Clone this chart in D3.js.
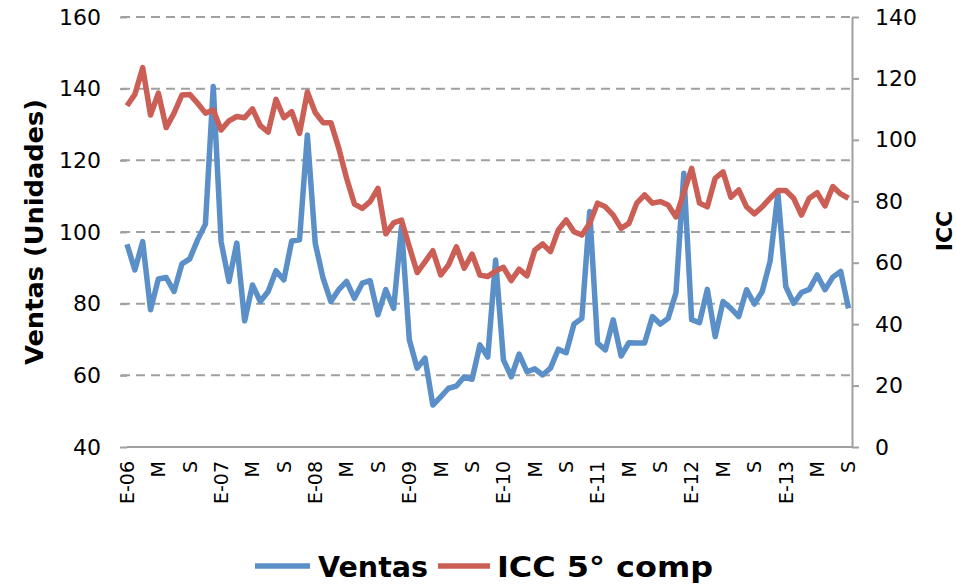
<!DOCTYPE html>
<html>
<head>
<meta charset="utf-8">
<script src="https://cdn.jsdelivr.net/npm/d3@7"></script>
<style>
  html, body { margin: 0; padding: 0; background: #fff; }
  svg { display: block; font-family: "DejaVu Sans", sans-serif; }
</style>
</head>
<body>
<svg id="chart" width="956" height="586"></svg>
<script>
// Monthly data, E-06 (Jan 2006) .. S-13 (Sep 2013)
const ventas = [
  96.6, 89.4, 97.3, 78.3, 86.9, 87.3, 83.4, 91.1, 92.5, 97.8, 102.2, 140.6,
  97.3, 86.2, 96.9, 75.2, 85.2, 80.6, 83.4, 89.2, 86.6, 97.5, 97.8, 127.1,
  96.9, 87.1, 80.6, 83.9, 86.2, 81.5, 85.7, 86.4, 76.9, 83.9, 78.7, 101.5,
  69.9, 62.0, 64.8, 51.7, 54.0, 56.4, 57.0, 59.6, 58.9, 68.5, 65.1, 92.2,
  64.3, 59.6, 65.9, 61.0, 61.8, 60.1, 62.0, 67.3, 66.3, 74.3, 75.9, 105.7,
  69.0, 67.1, 75.5, 65.4, 69.1, 69.0, 69.0, 76.4, 74.3, 75.9, 83.0, 116.4,
  75.5, 74.7, 84.0, 70.8, 80.6, 78.7, 76.4, 83.9, 79.9, 83.4, 91.8, 110.8,
  84.8, 80.1, 83.1, 84.0, 88.0, 83.9, 87.4, 89.0, 78.7
];
const icc = [
  111.1, 114.8, 123.5, 108.1, 115.2, 104.0, 108.7, 114.6, 114.8, 111.9, 108.7, 109.7,
  103.2, 106.2, 107.6, 107.2, 110.1, 104.6, 102.5, 113.2, 107.2, 109.2, 102.1, 115.6,
  108.9, 105.6, 105.6, 97.3, 87.5, 79.1, 77.7, 79.9, 84.2, 69.4, 73.0, 73.9,
  65.2, 56.8, 60.3, 63.9, 56.0, 59.3, 65.2, 58.2, 62.8, 56.0, 55.5, 57.3,
  58.5, 54.2, 57.9, 55.7, 64.1, 66.1, 63.6, 70.7, 73.9, 70.1, 69.0, 72.8,
  79.4, 78.2, 75.5, 71.2, 72.8, 79.4, 82.1, 79.4, 79.9, 78.8, 74.9, 82.8,
  90.7, 79.4, 78.2, 87.5, 89.6, 81.3, 83.7, 78.2, 75.9, 78.2, 81.0, 83.5,
  83.5, 81.0, 75.5, 81.0, 82.8, 78.5, 84.8, 82.4, 81.0
];
// one label every 4 months
const xTickLabels = [
  "E-06", "M", "S", "E-07", "M", "S", "E-08", "M", "S", "E-09", "M", "S",
  "E-10", "M", "S", "E-11", "M", "S", "E-12", "M", "S", "E-13", "M", "S"
];
const leftTicks = [40, 60, 80, 100, 120, 140, 160];
const rightTicks = [0, 20, 40, 60, 80, 100, 120, 140];
const seriesNames = ["Ventas", "ICC 5° comp"];
const colors = ["#5b8fc7", "#cb5f55"];

const svg = d3.select("#chart");
const plot = { left: 127, right: 852, top: 17, bottom: 447 };

const x = d3.scalePoint().domain(d3.range(ventas.length)).range([plot.left, 848.5]);
const yL = d3.scaleLinear().domain([40, 160]).range([plot.bottom, plot.top]);
const yR = d3.scaleLinear().domain([0, 140]).range([plot.bottom, plot.top]);

// gridlines (dashed) from left axis ticks
svg.append("g")
  .selectAll("line")
  .data(leftTicks.filter((d) => d > 40))
  .join("line")
  .attr("x1", plot.left - 6)
  .attr("x2", plot.right)
  .attr("y1", (d) => yL(d))
  .attr("y2", (d) => yL(d))
  .attr("stroke", "#a0a0a0")
  .attr("stroke-width", 2)
  .attr("stroke-dasharray", "9,6");

// left axis: ticks + labels, no domain line
const gLeft = svg.append("g")
  .attr("transform", `translate(${plot.left},0)`)
  .call(d3.axisLeft(yL).tickValues(leftTicks).tickSize(7).tickPadding(19));
gLeft.select(".domain").remove();
gLeft.selectAll(".tick line").attr("stroke", "#a0a0a0").attr("stroke-width", 2);
gLeft.selectAll(".tick text")
  .attr("font-family", "DejaVu Sans, sans-serif")
  .attr("font-size", 22)
  .attr("fill", "#000");

// right axis
const gRight = svg.append("g")
  .attr("transform", `translate(${plot.right},0)`)
  .call(d3.axisRight(yR).tickValues(rightTicks).tickSize(7).tickSizeOuter(0).tickPadding(16));
gRight.select(".domain").attr("stroke", "#a0a0a0").attr("stroke-width", 2);
gRight.selectAll(".tick line").attr("stroke", "#a0a0a0").attr("stroke-width", 2);
gRight.selectAll(".tick text")
  .attr("font-family", "DejaVu Sans, sans-serif")
  .attr("font-size", 22)
  .attr("fill", "#000");

// bottom axis line
svg.append("line")
  .attr("x1", plot.left)
  .attr("x2", plot.right)
  .attr("y1", plot.bottom)
  .attr("y2", plot.bottom)
  .attr("stroke", "#a0a0a0")
  .attr("stroke-width", 2);

// x labels, rotated
svg.append("g")
  .selectAll("text")
  .data(xTickLabels)
  .join("text")
  .attr("transform", (d, i) => `translate(${x(i * 4)}, 461) rotate(-90)`)
  .attr("text-anchor", "end")
  .attr("dy", "0.36em")
  .attr("font-size", 19)
  .attr("fill", "#000")
  .text((d) => d);

// lines
const lineL = d3.line().x((d, i) => x(i)).y((d) => yL(d));
const lineR = d3.line().x((d, i) => x(i)).y((d) => yR(d));

svg.append("path")
  .datum(ventas)
  .attr("d", lineL)
  .attr("fill", "none")
  .attr("stroke", colors[0])
  .attr("stroke-width", 5.5)
  .attr("stroke-linejoin", "round");

svg.append("path")
  .datum(icc)
  .attr("d", lineR)
  .attr("fill", "none")
  .attr("stroke", colors[1])
  .attr("stroke-width", 5.5)
  .attr("stroke-linejoin", "round");

// axis titles
svg.append("text")
  .attr("transform", "translate(43, 232) rotate(-90)")
  .attr("text-anchor", "middle")
  .attr("font-weight", "bold")
  .attr("font-size", 25)
  .attr("textLength", 266)
  .attr("lengthAdjust", "spacingAndGlyphs")
  .text("Ventas (Unidades)");

svg.append("text")
  .attr("transform", "translate(952, 231) rotate(-90)")
  .attr("text-anchor", "middle")
  .attr("font-weight", "bold")
  .attr("font-size", 22)
  .text("ICC");

// legend
const legend = svg.append("g");
const legendItems = [
  { name: seriesNames[0], color: colors[0], x1: 255, x2: 310, tx: 318, len: 110 },
  { name: seriesNames[1], color: colors[1], x1: 438, x2: 490, tx: 497, len: 216 }
];
legendItems.forEach((d) => {
  legend.append("line")
    .attr("x1", d.x1).attr("x2", d.x2)
    .attr("y1", 566).attr("y2", 566)
    .attr("stroke", d.color)
    .attr("stroke-width", 5.5);
  legend.append("text")
    .attr("x", d.tx)
    .attr("y", 577)
    .attr("font-weight", "bold")
    .attr("font-size", 28)
    .attr("textLength", d.len)
    .attr("lengthAdjust", "spacingAndGlyphs")
    .attr("fill", "#000")
    .text(d.name);
});
</script>
</body>
</html>
